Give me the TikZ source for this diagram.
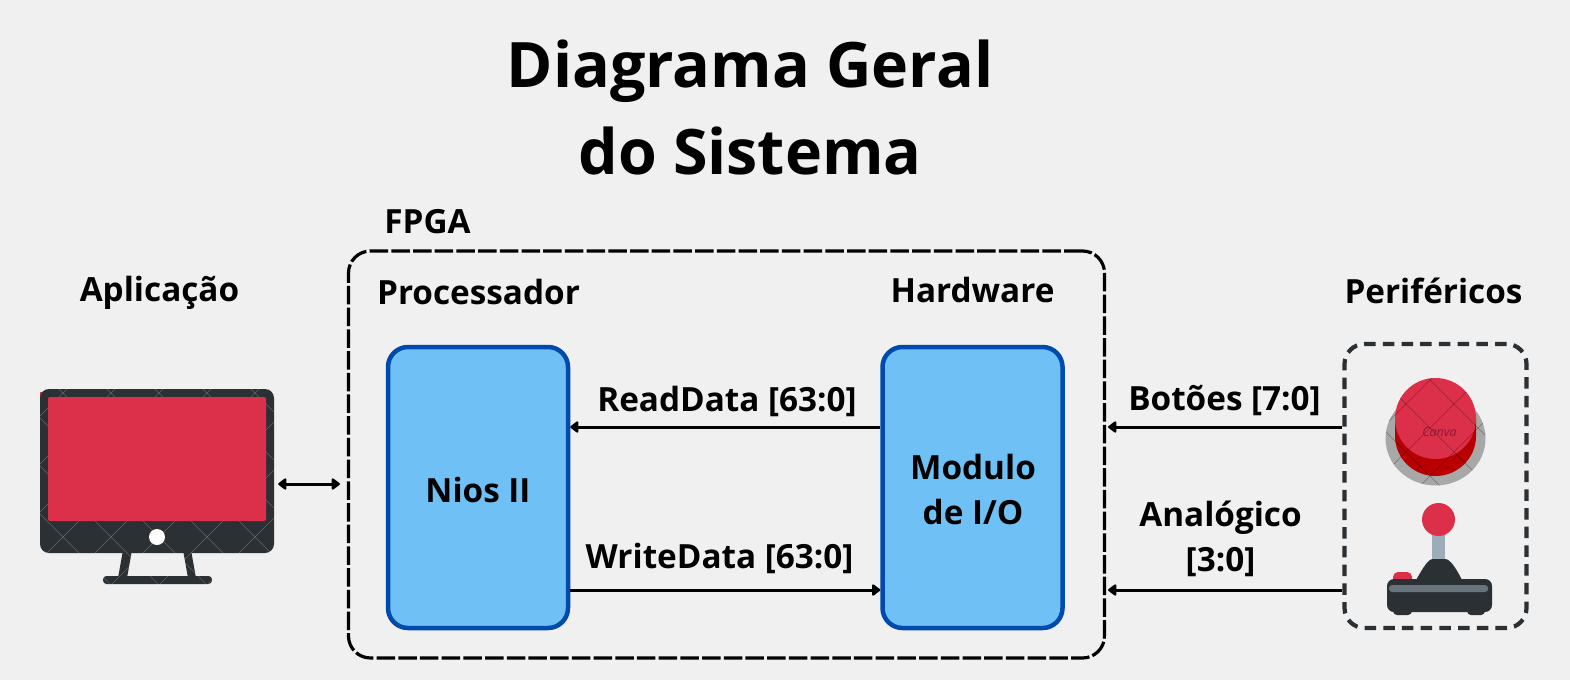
\documentclass[tikz,border=0pt]{standalone}
\usepackage{fontspec}
\setmainfont{Open Sans}[BoldFont={Open Sans Bold}]
\usetikzlibrary{arrows.meta}
\definecolor{bg}{HTML}{F0F0F0}
\definecolor{bluefill}{HTML}{6FC1F5}
\definecolor{blueline}{HTML}{004AAD}
\definecolor{dark}{HTML}{2B3035}
\definecolor{redm}{HTML}{DC304A}
\definecolor{reddark}{HTML}{B80000}
\definecolor{greyb}{HTML}{A8A8A8}
\definecolor{stick}{HTML}{9DADB7}
\definecolor{strip}{HTML}{68747C}
\definecolor{canvac}{HTML}{8A1838}
\tikzset{
  x=1pt,y=-1pt,
  lbl/.style={font=\fontsize{33.3}{45}\selectfont\bfseries,text=black,inner sep=0pt,align=center},
  ttl/.style={font=\fontsize{62.7}{87}\selectfont\bfseries,text=black,inner sep=0pt,align=center},
  blockbox/.style={draw=blueline,fill=bluefill,line width=4.5pt,rounded corners=20pt,minimum width=180pt,minimum height=281pt,inner sep=0pt},
  frame/.style={draw=black,line width=3.2pt,rounded corners=22pt,dash pattern=on 18.5pt off 3.2pt,inner sep=0pt},
  pframe/.style={draw=dark,line width=4.2pt,rounded corners=20pt,dash pattern=on 11.5pt off 7.2pt,inner sep=0pt},
  conn/.style={draw=black,line width=3pt,-{Triangle[length=9pt,width=13pt,round]}},
  conn2/.style={draw=black,line width=3pt,{Triangle[length=9pt,width=13pt,round]}-{Triangle[length=9pt,width=13pt,round]}},
  hatch/.style={line width=0.6pt},
}
\begin{document}
\begin{tikzpicture}
\useasboundingbox (0,0) rectangle (1570,680);
\fill[bg] (0,0) rectangle (1570,680);
% title
\node[ttl] (title) at (750,107.5) {Diagrama Geral\\do Sistema};
% frames
\node[frame,minimum width=756pt,minimum height=407pt] (fpga) at (726.5,454.5) {};
\node[pframe,minimum width=182pt,minimum height=284pt] (perif) at (1435.5,486) {};
% blocks
\node[blockbox] (nios) at (478,487.5) {};
\node[blockbox] (modulo) at (972.5,487.5) {};
\node[lbl] (lnios) at (478,490) {Nios II};
\node[lbl] (lmod) at (973,490) {Modulo\\de I/O};
% labels
\node[lbl] (lfpga) at (427.5,221.5) {FPGA};
\node[lbl] (lproc) at (478.5,292.5) {Processador};
\node[lbl] (lhw) at (972.5,290.5) {Hardware};
\node[lbl] (lapp) at (159.5,292.5) {Aplicação};
\node[lbl] (lper) at (1433.5,290.5) {Periféricos};
\node[lbl] (lread) at (727,401) {ReadData [63:0]};
\node[lbl] (lwrite) at (719.5,558.5) {WriteData [63:0]};
\node[lbl] (lbot) at (1224.5,401) {Botões [7:0]};
\node[lbl] (lana) at (1220.5,538.5) {Analógico\\{[3:0]}};
% monitor
\node[minimum width=234pt,minimum height=164pt,inner sep=0pt] (monitor) at (157,471) {};
\fill[redm] (40,392) rectangle (50,400);
\fill[dark] (123,550) -- (132,550) -- (127,578) -- (118,578) -- cycle;
\fill[dark] (183,550) -- (191,550) -- (196,578) -- (188,578) -- cycle;
\fill[dark,rounded corners=3.5pt] (103,576) rectangle (212,584);
\fill[dark,rounded corners=9pt] (40,389) rectangle (274,553);
\begin{scope}
\clip[rounded corners=9pt] (40,389) rectangle (274,553);
\foreach \i in {-8,...,6} {
  \draw[hatch,draw=white,opacity=.25] (63+\i*48,393-48) -- ++(300,300);
  \draw[hatch,draw=white,opacity=.25] (63+\i*48+144,393-48) -- ++(-300,300);
}
\end{scope}
\begin{scope}
\clip (100,553) rectangle (215,584);
\foreach \i in {-3,...,4} {
  \draw[hatch,draw=white,opacity=.22] (159+\i*48,537) -- ++(60,60);
  \draw[hatch,draw=white,opacity=.22] (159+\i*48,537) -- ++(-60,60);
}
\end{scope}
\fill[redm,rounded corners=2pt] (48,397) rectangle (266,521);
\fill[white] (157,537) circle (8);
% button
\fill[greyb] (1435.5,438.5) ellipse (50 and 47);
\fill[reddark] (1395,418) -- (1395,436) arc[start angle=180,end angle=0,x radius=40.5,y radius=40] -- (1476,418) -- cycle;
\fill[redm] (1435.5,418.5) circle (40.5);
\begin{scope}
\clip (1435.5,438.5) ellipse (50 and 47) (1435.5,418.5) circle (40.5);
\foreach \i in {-5,...,5} {
  \draw[hatch,draw=black,opacity=.32] (1430+\i*48-40,340) -- ++(160,160);
  \draw[hatch,draw=black,opacity=.32] (1430+\i*48+40,340) -- ++(-160,160);
}
\end{scope}
\node[inner sep=0pt,text=canvac,font=\fontsize{12.5}{13}\selectfont\itshape] (canva) at (1439.5,432) {Canva};
% joystick
\fill[stick] (1432,528) rectangle (1445,562);
\fill[redm] (1438.5,519.5) circle (16.5);
\fill[redm,rounded corners=5pt] (1393,572) rectangle (1412,586);
\fill[dark] (1416,580) .. controls (1423,568) and (1428,559) .. (1433,559) -- (1445,559) .. controls (1450,559) and (1456,568) .. (1462,580) -- cycle;
\fill[dark,rounded corners=4pt] (1393,606) rectangle (1412,615);
\fill[dark,rounded corners=4pt] (1467,606) rectangle (1485,615);
\fill[dark,rounded corners=7pt] (1387,579) rectangle (1492,612);
\fill[strip,rounded corners=3pt] (1389,585) rectangle (1488,592);
% connectors
\draw[conn] (modulo.west |- 0,427) -- (nios.east |- 0,427);
\draw[conn] (nios.east |- 0,590) -- (modulo.west |- 0,590);
\draw[conn,shorten >=2pt] (perif.west |- 0,427) -- (fpga.east |- 0,427);
\draw[conn,shorten >=2pt] (perif.west |- 0,590) -- (fpga.east |- 0,590);
\draw[conn2,shorten <=4pt,shorten >=7pt] (monitor.east |- 0,484) -- (fpga.west |- 0,484);
\end{tikzpicture}
\end{document}
